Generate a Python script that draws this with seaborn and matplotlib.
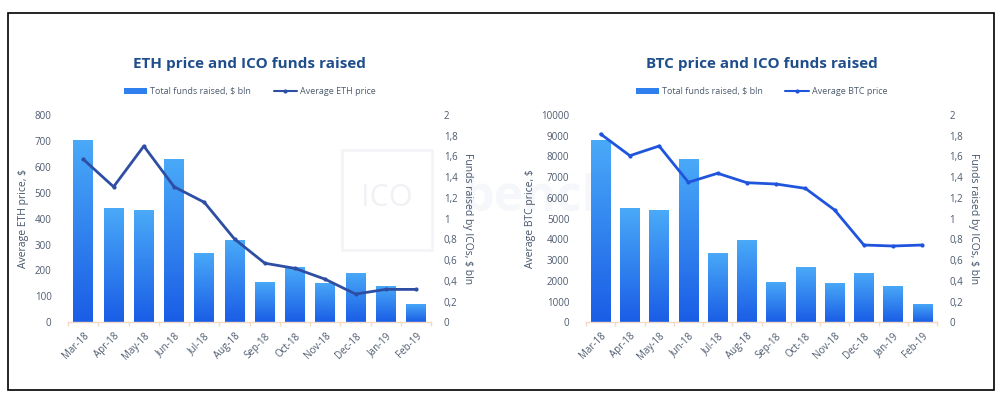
import numpy as np
import pandas as pd
import matplotlib.pyplot as plt
import matplotlib.patches as mpatches
from matplotlib.lines import Line2D
from matplotlib.colors import LinearSegmentedColormap
from matplotlib.ticker import FuncFormatter
import seaborn as sns

months = ["Mar-18", "Apr-18", "May-18", "Jun-18", "Jul-18", "Aug-18",
          "Sep-18", "Oct-18", "Nov-18", "Dec-18", "Jan-19", "Feb-19"]
funds_bln = [1.76, 1.10, 1.08, 1.58, 0.67, 0.79, 0.39, 0.53, 0.38, 0.48, 0.35, 0.18]
eth_price = [629, 523, 680, 523, 463, 321, 228, 208, 166, 109, 127, 127]
btc_price = [9083, 8037, 8505, 6754, 7188, 6734, 6670, 6460, 5417, 3728, 3680, 3728]

sns.set_theme(style="white")
plt.rcParams['font.family'] = ['Open Sans', 'DejaVu Sans']

TITLE_C = "#1f4e8c"
TICK_C = "#4d5a6e"
LABEL_C = "#44546a"
AXIS_C = "#f3d9c6"
grad = LinearSegmentedColormap.from_list("bars", ["#1a5de6", "#4aaaf8"])


def comma_fmt(v, pos):
    s = f"{v:.1f}".rstrip("0").rstrip(".")
    return s.replace(".", ",")


def draw_panel(fig, rect, price, price_max, price_step, line_color, title, price_label, line_label):
    df = pd.DataFrame({"month": months, "funds": funds_bln, "price": price})

    # bars on the funds axis (right), line on the price axis (left) drawn on top
    ax = fig.add_axes(rect)
    ax.patch.set_alpha(0)
    sns.barplot(data=df, x="month", y="funds", ax=ax, color="#2f80ee", width=0.66,
                saturation=1, edgecolor="none")
    gimg = np.linspace(0, 1, 256).reshape(-1, 1)
    for p in list(ax.patches):
        x0, w, h = p.get_x(), p.get_width(), p.get_height()
        im = ax.imshow(gimg, cmap=grad, origin="lower", aspect="auto",
                       extent=[x0, x0 + w, 0, h], zorder=2)
        im.set_clip_path(p)
        p.set_facecolor("none")
    ax.set_xlim(-0.5, len(months) - 0.5)
    ax.set_ylim(0, 2)
    ax.set_xlabel("")

    ax2 = ax.twinx()
    ax2.patch.set_alpha(0)
    sns.lineplot(data=df, x="month", y="price", ax=ax2, color=line_color, lw=2,
                 marker="o", markersize=3, markeredgewidth=0, sort=False)
    ax2.set_ylim(0, price_max)
    ax2.set_yticks(np.arange(0, price_max + 1, price_step))
    ax2.set_xlabel("")

    # swap sides after twinx
    ax.yaxis.tick_right()
    ax.yaxis.set_label_position("right")
    ax2.yaxis.tick_left()
    ax2.yaxis.set_label_position("left")
    ax.set_yticks(np.arange(0, 2.01, 0.2))
    ax.yaxis.set_major_formatter(FuncFormatter(comma_fmt))
    ax.set_ylabel("Funds raised by ICOs, $ bln", color=LABEL_C, fontsize=7.5,
                  rotation=270, labelpad=11)
    ax2.set_ylabel(price_label, color=LABEL_C, fontsize=7.5, labelpad=4)

    for a in (ax, ax2):
        for s in a.spines.values():
            s.set_visible(False)
    ax.tick_params(axis="y", which="both", left=False, right=True, labelleft=False,
                   labelright=True, length=0, labelsize=7, labelcolor=TICK_C, pad=9)
    ax2.tick_params(axis="y", which="both", left=True, right=False, labelleft=True,
                    labelright=False, length=0, labelsize=7, labelcolor=TICK_C, pad=12)
    ax.spines["bottom"].set_visible(True)
    ax.spines["bottom"].set_color(AXIS_C)
    ax.spines["bottom"].set_linewidth(1)
    ax.set_xticks(range(len(months)))
    ax.set_xticklabels(months, rotation=45, ha="right", rotation_mode="anchor")
    ax.set_xticks(np.arange(-0.5, len(months), 1), minor=True)
    ax.tick_params(axis="x", which="major", length=0, labelsize=7, labelcolor=TICK_C, pad=6)
    ax.tick_params(axis="x", which="minor", length=3, color=AXIS_C, bottom=True)

    cx = rect[0] + rect[2] / 2
    fig.text(cx, 0.84, title, ha="center", va="center", fontsize=11,
             fontweight="bold", color=TITLE_C)
    handles = [mpatches.Patch(facecolor="#2f80ee", edgecolor="none"),
               Line2D([0], [0], color=line_color, lw=1.5, marker="o", markersize=2)]
    fig.legend(handles, ["Total funds raised, $ bln", line_label], loc="center",
               bbox_to_anchor=(cx, 0.77), ncol=2, frameon=False, fontsize=6.5,
               handlelength=2.6, handleheight=0.5, handletextpad=0.3, columnspacing=2.5,
               labelcolor=TICK_C)
    return ax, ax2


fig = plt.figure(figsize=(10.02, 3.99), dpi=100)

# faint watermark in the middle, kept behind everything
fig.patches.append(mpatches.Rectangle((342 / 1002, 1 - 250 / 399), 90 / 1002, 100 / 399,
                                      transform=fig.transFigure, fill=False,
                                      edgecolor="#f3f4f7", lw=2, zorder=-5))
fig.text(387 / 1002, 1 - 198 / 399, "ICO", ha="center", va="center", fontsize=22,
         color="#f0f1f5", zorder=-5)
fig.text(462 / 1002, 1 - 198 / 399, "bench", ha="left", va="center", fontsize=36,
         fontweight="bold", color="#f6f7fb", zorder=-5)

draw_panel(fig, [68.2 / 1002, 1 - 322.3 / 399, 363 / 1002, 207.3 / 399],
           eth_price, 800, 100, "#2e4ea3", "ETH price and ICO funds raised",
           "Average ETH price, $", "Average ETH price")
draw_panel(fig, [586 / 1002, 1 - 322.3 / 399, 351 / 1002, 207.3 / 399],
           btc_price, 10000, 1000, "#1f55dd", "BTC price and ICO funds raised",
           "Average BTC price, $", "Average BTC price")

fig.patches.append(mpatches.Rectangle((7.5 / 1002, 1 - 390 / 399), 986.5 / 1002, 377 / 399,
                                      transform=fig.transFigure, fill=False,
                                      edgecolor="black", lw=1.2, zorder=10))

fig.savefig("out.png", dpi=100, facecolor="white")
